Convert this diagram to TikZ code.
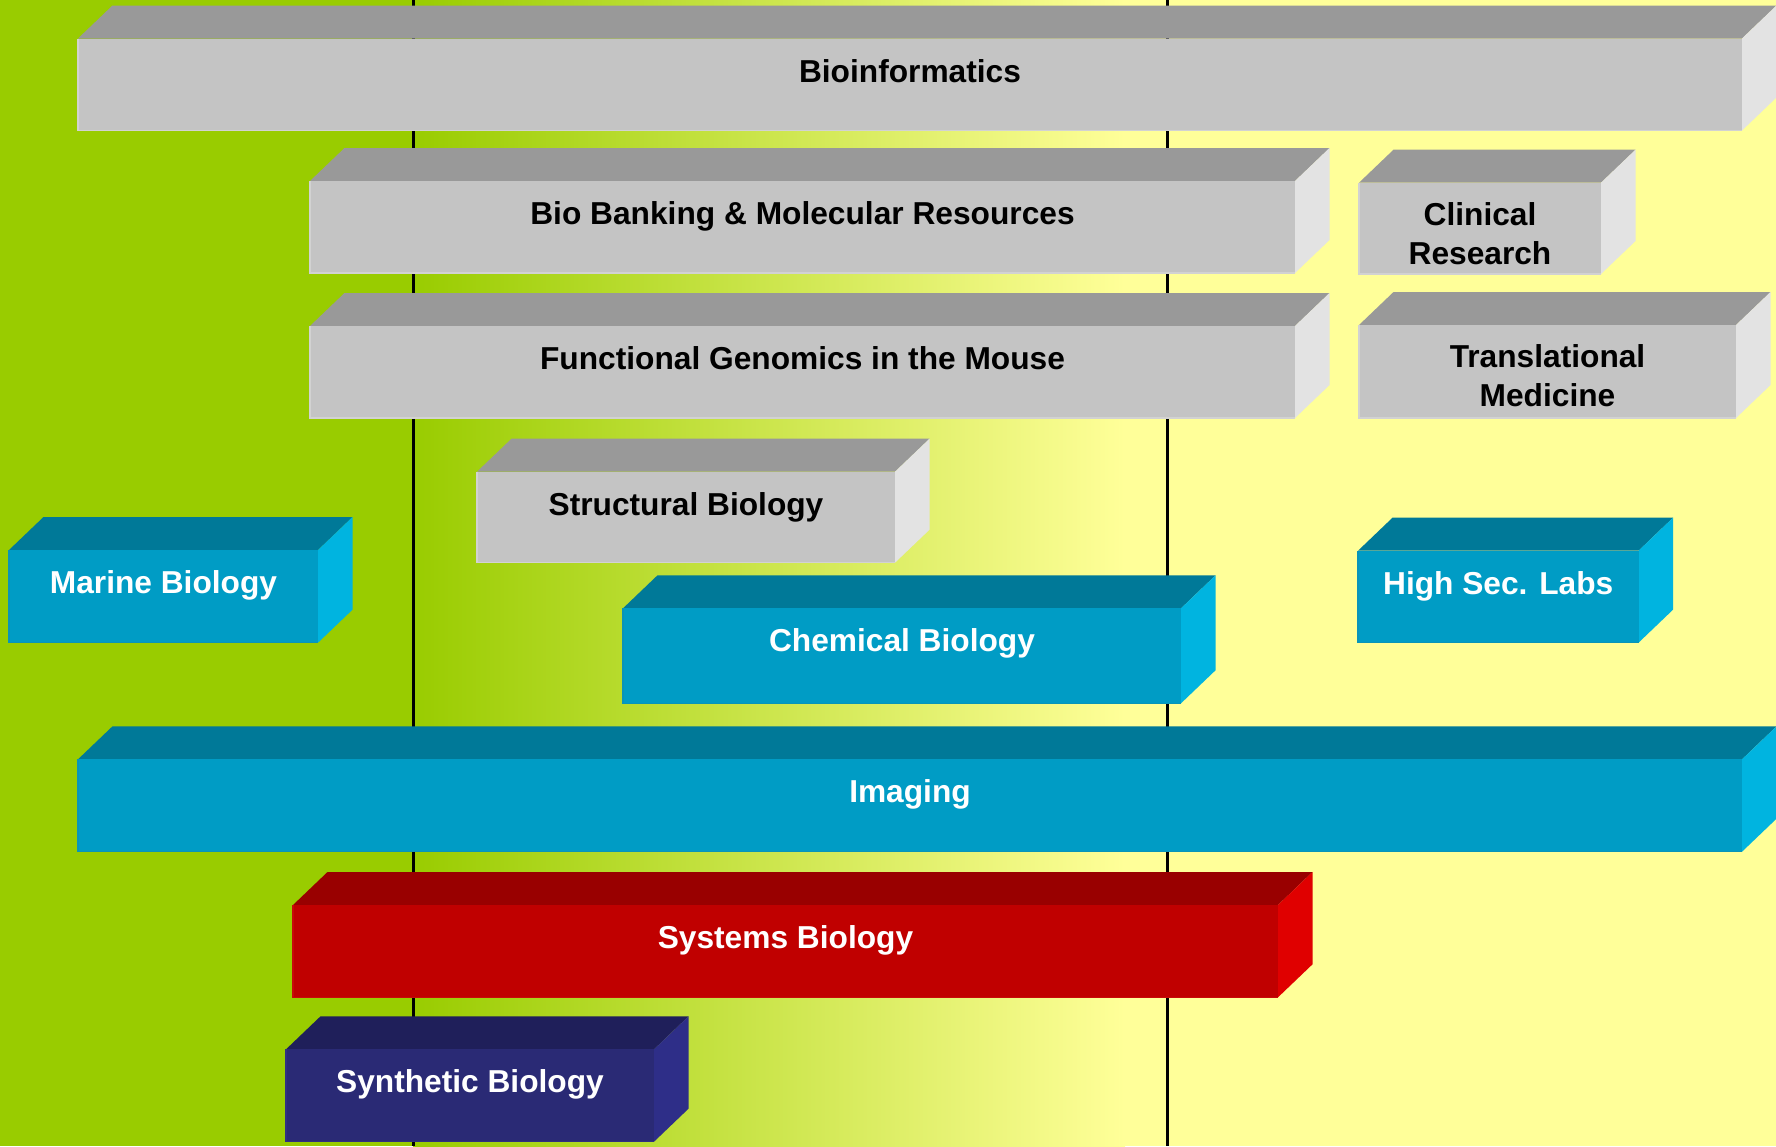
\documentclass[tikz,border=0pt]{standalone}
\usepackage{fontspec}
\setmainfont{Liberation Sans}
\definecolor{bggreen}{HTML}{99CC00}
\definecolor{bgyellow}{HTML}{FFFF99}
\definecolor{greyF}{HTML}{C4C4C4}\definecolor{greyT}{HTML}{999999}\definecolor{greyS}{HTML}{E3E3E3}\definecolor{greyE}{HTML}{D2D2D2}
\definecolor{tealF}{HTML}{009CC5}\definecolor{tealT}{HTML}{007998}\definecolor{tealS}{HTML}{00B4E0}\definecolor{tealE}{HTML}{0A94B8}
\definecolor{redF}{HTML}{C00000}\definecolor{redT}{HTML}{990000}\definecolor{redS}{HTML}{E00000}\definecolor{redE}{HTML}{C80A0A}
\definecolor{navyF}{HTML}{2A2A75}\definecolor{navyT}{HTML}{1F1F5A}\definecolor{navyS}{HTML}{2E2E88}\definecolor{navyE}{HTML}{303080}
% #1 x-left, #2 x-right, #3 y-top, #4 y-bottom (front face), #5 colour scheme
\newcommand\slab[5]{%
  \fill[#5T] (#1,#3) -- ({#1+34.5},{#3-33}) -- ({#2+34.5},{#3-33}) -- (#2,#3) -- cycle;
  \fill[#5S] (#2,#3) -- ({#2+34.5},{#3-33}) -- ({#2+34.5},{#4-33}) -- (#2,#4) -- cycle;
  \fill[#5F] (#1,#3) rectangle (#2,#4);
  \draw[#5E, line width=1.2] (#1,#3) -- (#1,#4) -- (#2,#4);
}
\tikzset{
  lbl/.style={inner sep=0pt, font=\fontsize{31.7}{39}\selectfont\bfseries, align=center},
  dk/.style={lbl, text=black},
  lt/.style={lbl, text=white},
  vline/.style={line width=3pt, black}
}
\begin{document}
\begin{tikzpicture}[x=1pt,y=-1pt]
\useasboundingbox (0,0) rectangle (1776,1146);
\clip (0,0) rectangle (1776,1146);
% background
\fill[bggreen] (0,0) rectangle (414,1146);
\shade[left color=bggreen, right color=bgyellow] (413,0) rectangle (1125,1146);
\fill[bgyellow] (1124,0) rectangle (1776,1146);
% vertical lines
\coordinate (la) at (413,0); \coordinate (lb) at (413,1146);
\coordinate (ra) at (1167,0); \coordinate (rb) at (1167,1146);
\draw[vline] (la) -- (lb);
\draw[vline] (ra) -- (rb);
% boxes
\slab{78}{1742}{38.5}{130.5}{grey}
\node[dk, anchor=base] (bioinf) at (910,82) {Bioinformatics};
\slab{310}{1295}{181}{273}{grey}
\node[dk, anchor=base] (biobank) at (802.5,224.5) {Bio Banking \& Molecular Resources};
\slab{1359}{1601}{182.7}{274}{grey}
\node[dk] (clinical) at (1480,233.2) {Clinical\\Research};
\slab{310}{1295}{326}{418}{grey}
\node[dk, anchor=base] (funcgen) at (802.5,369.5) {Functional Genomics in the Mouse};
\slab{1359}{1736}{325}{418}{grey}
\node[dk] (transmed) at (1547.5,375.5) {Translational\\Medicine};
\slab{477}{895}{471.7}{562.7}{grey}
\node[dk, anchor=base] (structbio) at (686,515.2) {Structural Biology};
\slab{9}{318}{550}{642.7}{teal}
\node[lt, anchor=base] (marine) at (163.5,593.5) {Marine Biology};
\slab{623}{1181}{608.3}{703.3}{teal}
\node[lt, anchor=base] (chembio) at (902,651.8) {Chemical Biology};
\slab{1358}{1638.5}{550.7}{642.7}{teal}
\node[lt, anchor=base] (highsec) at (1498.2,594.2) {High Sec. Labs};
\slab{78}{1742}{759.3}{851.7}{teal}
\node[lt, anchor=base] (imaging) at (910,802.8) {Imaging};
\slab{293}{1278}{905}{997.3}{red}
\node[lt, anchor=base] (sysbio) at (785.5,948.5) {Systems Biology};
\slab{286}{654}{1049.3}{1141.7}{navy}
\node[lt, anchor=base] (synbio) at (470,1092.8) {Synthetic Biology};
\end{tikzpicture}
\end{document}
